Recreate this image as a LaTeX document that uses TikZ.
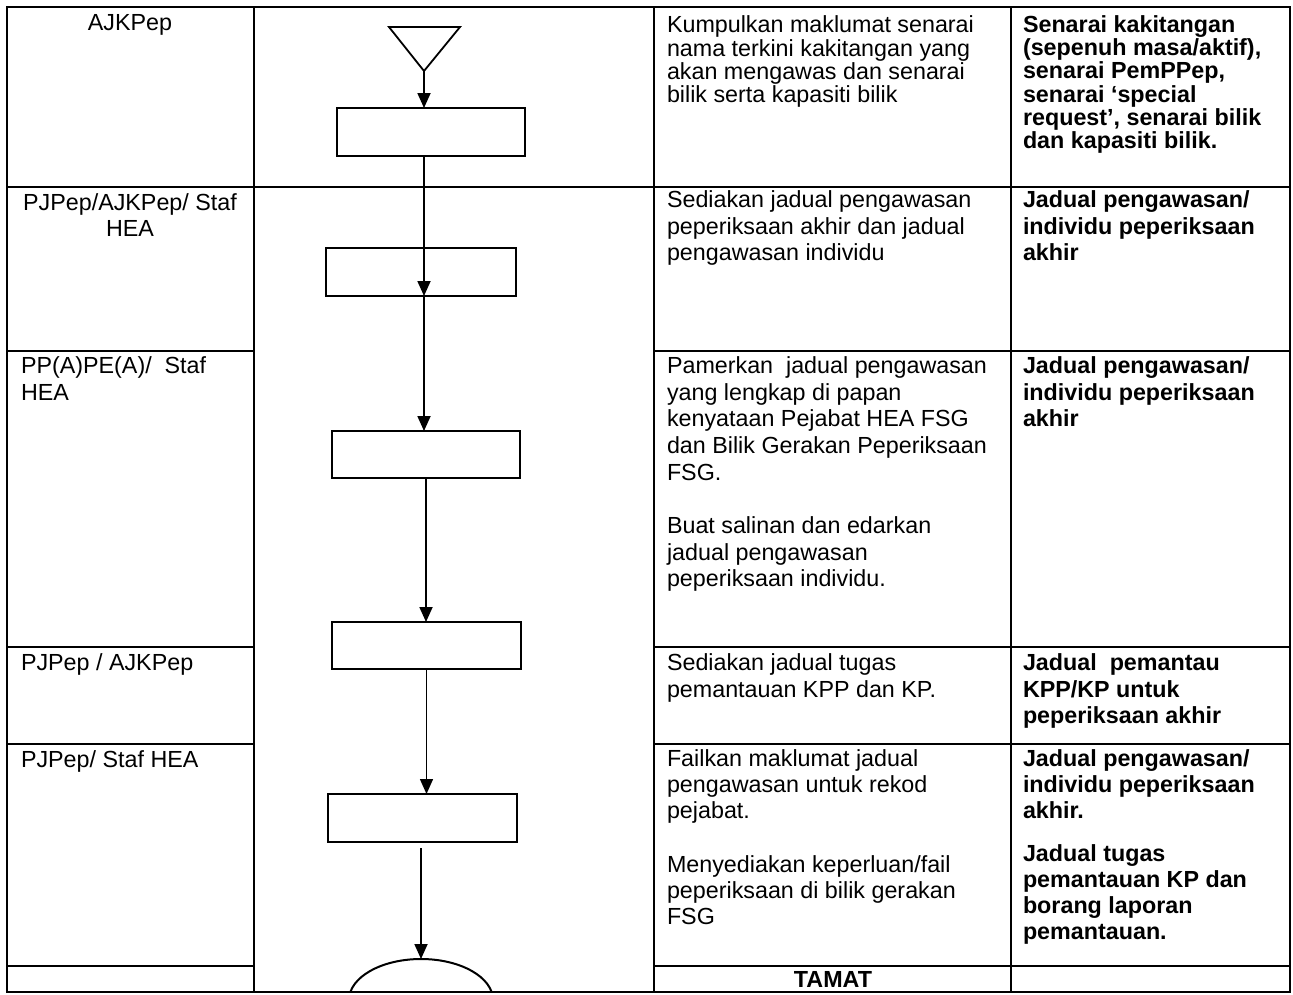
\documentclass[tikz,border=0pt]{standalone}
\usepackage{fontspec}
\setmainfont{Liberation Sans}
\usetikzlibrary{arrows.meta,shapes.geometric}
\newcommand\fstr{\rule{0pt}{18pt}}
\begin{document}
\begin{tikzpicture}[x=1pt,y=-1pt,
  grid/.style={line width=1.8pt},
  fbox/.style={draw,line width=2.3pt,inner sep=0pt,outer sep=0pt,minimum width=189pt,minimum height=47pt},
  arr/.style={line width=1.8pt,-{Triangle[length=15pt,width=13pt]}},
  cellbase/.style={inner sep=0pt,outer sep=0pt},
  cellA/.style={cellbase,anchor=north west,align=left,font=\fontsize{23.3}{23.3}\selectfont},
  cellB/.style={cellbase,anchor=north west,align=left,font=\fontsize{23.3}{26.7}\selectfont},
  cellC/.style={cellbase,anchor=north west,align=left,font=\fontsize{23.3}{26.3}\selectfont},
  cellD/.style={cellbase,anchor=north west,align=left,font=\fontsize{23.3}{25.8}\selectfont},
  cellE/.style={cellbase,anchor=north west,align=left,font=\fontsize{23.3}{26}\selectfont},
  ccenter/.style={cellbase,anchor=north,align=center,font=\fontsize{23.3}{26.7}\selectfont}]
\useasboundingbox (0,0) rectangle (1293,994);
\fill[white] (0,0) rectangle (1293,994);

% ---- flowchart shapes ----
\draw[line width=1.8pt] (389,27) -- (460,27) -- (424,71) -- cycle;
\coordinate (apex) at (424,71);
\node[fbox,minimum width=188pt,minimum height=48pt] (b1) at (431,132) {};
\node[fbox,minimum width=190pt,minimum height=48pt] (b2) at (421,272) {};
\node[fbox,minimum width=188pt] (b3) at (426,454.5) {};
\node[fbox] (b4) at (426.5,645.5) {};
\node[fbox,minimum height=48pt] (b5) at (422.5,818) {};
\begin{scope}
  \clip (0,0) rectangle (1293,992);
  \node[ellipse,draw,line width=2pt,inner sep=0pt,outer sep=0pt,minimum width=144pt,minimum height=82pt] (end) at (421,1000) {};
\end{scope}

% ---- connectors ----
\draw[arr] (apex) -- (apex |- b1.north);
\draw[arr] (apex |- b1.south) -- (apex |- b2.south);
\draw[arr] (apex |- b2.south) -- (apex |- b3.north);
\draw[arr] (b3.south) -- (b3.south |- b4.north);
\draw[arr,line width=1.4pt] (b4.south) -- (b4.south |- b5.north);
\coordinate (c5) at ([yshift=-6pt]end.north |- b5.south);
\draw[arr] (c5) -- (end.north);

% ---- table grid ----
\draw[grid] (7,7) rectangle (1290,992);
\foreach \x in {254,654,1011} \draw[grid] (\x,7) -- (\x,992);
\draw[grid] (7,187) -- (1290,187);
\foreach \y in {351,647,744,966} {
  \draw[grid] (7,\y) -- (254,\y);
  \draw[grid] (654,\y) -- (1290,\y);
}

% ---- column 1: actors ----
\node[ccenter] (r1a) at (130,12.7) {\fstr AJKPep};
\node[ccenter] (r2a) at (130,192) {\fstr PJPep/AJKPep/ Staf\\HEA};
\node[cellB] (r3a) at (21,355.3) {\fstr PP(A)PE(A)/\ \ Staf\\HEA};
\node[cellB] (r4a) at (21,652) {\fstr PJPep / AJKPep};
\node[cellB] (r5a) at (21,749.3) {\fstr PJPep/ Staf HEA};

% ---- column 3: activities ----
\node[cellA] (r1c) at (667,14.7) {\fstr Kumpulkan maklumat senarai\\nama terkini kakitangan yang\\akan mengawas dan senarai\\bilik serta kapasiti bilik};
\node[cellB] (r2c) at (667,189.5) {\fstr Sediakan jadual pengawasan\\peperiksaan akhir dan jadual\\pengawasan individu};
\node[cellB] (r3c) at (667,355.3) {\fstr Pamerkan\ \ jadual pengawasan\\yang lengkap di papan\\kenyataan Pejabat HEA FSG\\dan Bilik Gerakan Peperiksaan\\FSG.\\[26.7pt]Buat salinan dan edarkan\\jadual pengawasan\\peperiksaan individu.};
\node[cellC] (r4c) at (667,652.7) {\fstr Sediakan jadual tugas\\pemantauan KPP dan KP.};
\node[cellD] (r5c) at (667,748.7) {\fstr Failkan maklumat jadual\\pengawasan untuk rekod\\pejabat.\\[28.7pt]Menyediakan keperluan/fail\\peperiksaan di bilik gerakan\\FSG};
\node[ccenter,font=\fontsize{23.3}{26.7}\selectfont\bfseries] (r6c) at (833,969) {\fstr TAMAT};

% ---- column 4: documents ----
\node[cellA,font=\fontsize{23.3}{23.1}\selectfont\bfseries] (r1d) at (1023,14.7) {\fstr Senarai kakitangan\\(sepenuh masa/aktif),\\senarai PemPPep,\\senarai ‘special\\request’, senarai bilik\\dan kapasiti bilik.};
\node[cellB,font=\fontsize{23.3}{26.7}\selectfont\bfseries] (r2d) at (1023,189.5) {\fstr Jadual pengawasan/\\individu peperiksaan\\akhir};
\node[cellB,font=\fontsize{23.3}{26.7}\selectfont\bfseries] (r3d) at (1023,355.3) {\fstr Jadual pengawasan/\\individu peperiksaan\\akhir};
\node[cellC,font=\fontsize{23.3}{26.3}\selectfont\bfseries] (r4d) at (1023,652.7) {\fstr Jadual\ \ pemantau\\KPP/KP untuk\\peperiksaan akhir};
\node[cellE,font=\fontsize{23.3}{26}\selectfont\bfseries] (r5d) at (1023,748.7) {\fstr Jadual pengawasan/\\individu peperiksaan\\akhir.\\[17pt]Jadual tugas\\pemantauan KP dan\\borang laporan\\pemantauan.};
\end{tikzpicture}
\end{document}
